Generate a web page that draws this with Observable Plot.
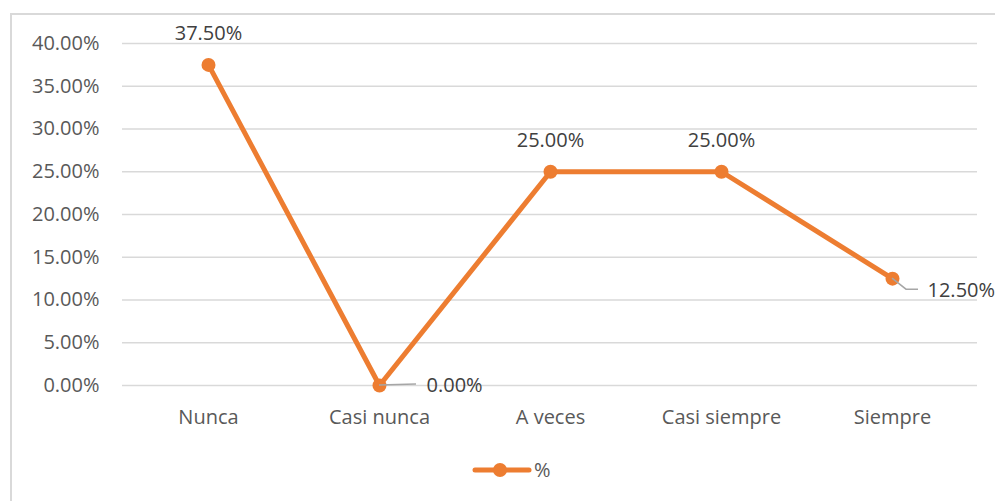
<!DOCTYPE html>
<html>
<head>
<meta charset="utf-8">
<script src="https://cdn.jsdelivr.net/npm/d3@7"></script>
<script src="https://cdn.jsdelivr.net/npm/@observablehq/plot@0.6"></script>
<style>
  html, body { margin: 0; padding: 0; background: #fff; overflow: hidden; }
  #frame { position: absolute; left: 10px; top: 13px; width: 1000px; height: 500px; border: 2px solid #d9d9d9; box-sizing: border-box; }
  #chart { position: absolute; left: 0; top: 0; }
  #legend { position: absolute; left: 470px; top: 456px; display: flex; align-items: center; font-family: "Open Sans", sans-serif; font-size: 20px; color: #595959; }
</style>
</head>
<body>
<div id="frame"></div>
<div id="chart"></div>
<div id="legend"></div>
<script>
const categories = ["Nunca", "Casi nunca", "A veces", "Casi siempre", "Siempre"];
const values = [0.375, 0.0, 0.25, 0.25, 0.125];
const yTicks = [0, 0.05, 0.10, 0.15, 0.20, 0.25, 0.30, 0.35, 0.40];
const labelSide = ["above", "right", "above", "above", "right"];
const seriesName = "%";

const color = "#ED7D31";
const fmt = d3.format(".2%");
const data = categories.map((c, i) => ({cat: c, v: values[i], side: labelSide[i], label: fmt(values[i])}));

const chart = Plot.plot({
  width: 995,
  height: 501,
  marginLeft: 122,
  marginRight: 18,
  marginTop: 43,
  marginBottom: 116,
  style: {fontFamily: "'Open Sans', sans-serif", fontSize: "20px", color: "#595959", background: "transparent", overflow: "visible"},
  x: {type: "point", domain: categories, padding: 0.5, tickSize: 0, tickPadding: 24, label: null},
  y: {domain: [0, 0.4], ticks: yTicks, tickFormat: fmt, tickSize: 0, tickPadding: 23, label: null},
  marks: [
    Plot.ruleY(yTicks, {stroke: "#d9d9d9", strokeWidth: 1.5}),
    Plot.line(data, {x: "cat", y: "v", stroke: color, strokeWidth: 5, strokeLinejoin: "round", strokeLinecap: "round"}),
    Plot.dot(data, {x: "cat", y: "v", r: 7, fill: color, stroke: "none"}),
    Plot.text(data.filter(d => d.side === "above"), {x: "cat", y: "v", text: "label", dy: -31, fill: "#404040", fontSize: 20}),
    Plot.text(data.filter(d => d.side === "right" && d.v === 0), {x: "cat", y: "v", text: "label", dx: 47, dy: 0, textAnchor: "start", fill: "#404040", fontSize: 20}),
    Plot.text(data.filter(d => d.side === "right" && d.v !== 0), {x: "cat", y: "v", text: "label", dx: 35, dy: 12, textAnchor: "start", fill: "#404040", fontSize: 20})
  ]
});
document.getElementById("chart").appendChild(chart);

// leader lines for the labels placed to the right, positioned through Plot's scales
const sx = chart.scale("x"), sy = chart.scale("y");
const svg = d3.select(chart);
data.filter(d => d.side === "right").forEach(d => {
  const px = sx.apply(d.cat), py = sy.apply(d.v);
  const pts = d.v === 0
    ? [[px, py], [px + 37, py - 1]]
    : [[px, py], [px + 14, py + 11], [px + 26, py + 11]];
  svg.append("path")
    .attr("d", d3.line()(pts))
    .attr("fill", "none")
    .attr("stroke", "#a6a6a6")
    .attr("stroke-width", 1.5);
});

// legend
const leg = d3.select("#legend");
const ls = leg.append("svg").attr("width", 64).attr("height", 26);
ls.append("line").attr("x1", 5).attr("x2", 59).attr("y1", 13).attr("y2", 13)
  .attr("stroke", color).attr("stroke-width", 5).attr("stroke-linecap", "round");
ls.append("circle").attr("cx", 30).attr("cy", 13).attr("r", 7).attr("fill", color);
leg.append("span").text(seriesName).style("margin-left", "0px");
</script>
</body>
</html>
